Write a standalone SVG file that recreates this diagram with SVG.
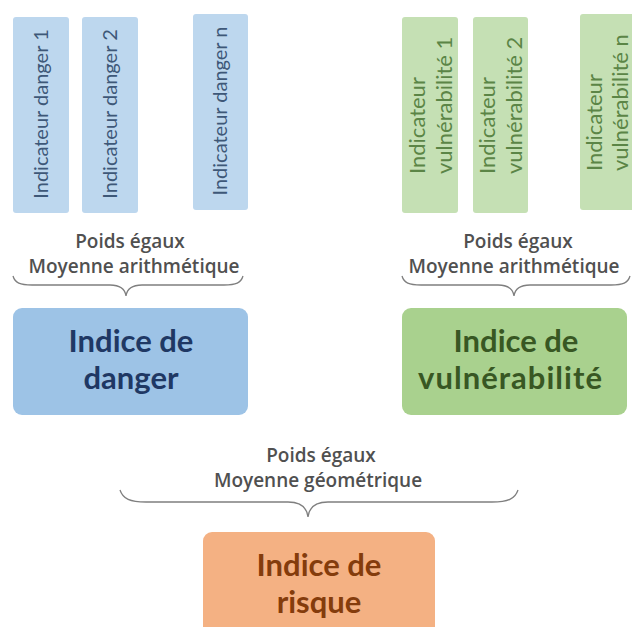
<svg xmlns="http://www.w3.org/2000/svg" width="632" height="627" viewBox="0 0 632 627">
<style>
.ind-d{fill:#BDD7EE}
.ind-v{fill:#C5E0B4}
.it{font-family:Lato,"Open Sans","Liberation Sans",sans-serif;font-weight:400;font-size:20px}
.itv-f{font-size:22px}
.itd{fill:#3E5878}
.itv{fill:#5B8546}
.lbl{font-family:"Open Sans","Liberation Sans",sans-serif;font-weight:600;font-size:19px;fill:#505050;text-anchor:middle}
.ttl{font-family:Lato,"Open Sans","Liberation Sans",sans-serif;font-weight:700;font-size:31px;text-anchor:middle}
.brace{fill:none;stroke:#7F7F7F;stroke-width:1.3}
</style>
<rect width="632" height="627" fill="#FFFFFF"/>

<g id="danger1"><rect class="ind-d" x="13" y="17" width="56" height="196" rx="3"/><text class="it itd" text-anchor="middle" transform="translate(48,114) rotate(-90)">Indicateur danger 1</text></g>
<g id="danger2"><rect class="ind-d" x="82" y="17" width="56" height="196" rx="3"/><text class="it itd" text-anchor="middle" transform="translate(117,114) rotate(-90)">Indicateur danger 2</text></g>
<g id="dangern"><rect class="ind-d" x="193" y="14" width="55" height="196" rx="3"/><text class="it itd" text-anchor="middle" transform="translate(227,111) rotate(-90)">Indicateur danger n</text></g>

<g id="vuln1"><rect class="ind-v" x="402" y="17" width="56" height="196" rx="3"/><text class="it itv itv-f" transform="translate(425,174) rotate(-90)"><tspan x="0" y="0">Indicateur</tspan><tspan x="0" y="27">vulnérabilité 1</tspan></text></g>
<g id="vuln2"><rect class="ind-v" x="473" y="17" width="55" height="196" rx="3"/><text class="it itv itv-f" transform="translate(495,174) rotate(-90)"><tspan x="0" y="0">Indicateur</tspan><tspan x="0" y="27">vulnérabilité 2</tspan></text></g>
<g id="vulnn"><rect class="ind-v" x="580" y="14" width="60" height="196" rx="3"/><text class="it itv itv-f" transform="translate(602,171) rotate(-90)"><tspan x="0" y="0">Indicateur</tspan><tspan x="0" y="26">vulnérabilité n</tspan></text></g>

<g id="connectors">
<path class="brace" d="M13,276 C15,283 20,285 32,285 L110,285 C120,285 125,289 126,296 C127,289 132,285 142,285 L224,285 C236,285 241,283 243,276"/>
<path class="brace" d="M402,276 C404,283 409,285 421,285 L498,285 C508,285 513,289 514,296 C515,289 520,285 530,285 L611,285 C623,285 628,283 630,276"/>
<path class="brace" d="M120,490 C123,499 130,502 146,502 L288,502 C302,502 307,508 308,517 C309,508 314,502 328,502 L492,502 C508,502 515,499 518,490"/>
</g>

<g id="label-danger"><text class="lbl" x="130" y="248">Poids égaux</text><text class="lbl" x="134" y="273">Moyenne arithmétique</text></g>
<g id="label-vuln"><text class="lbl" x="518" y="248">Poids égaux</text><text class="lbl" x="514" y="273">Moyenne arithmétique</text></g>
<g id="label-risk"><text class="lbl" x="321" y="462">Poids égaux</text><text class="lbl" x="318" y="487">Moyenne géométrique</text></g>

<g id="indice-danger"><rect x="13" y="308" width="235" height="107" rx="9" fill="#9DC3E6"/><text class="ttl" fill="#1F3864" x="131" y="352">Indice de</text><text class="ttl" fill="#1F3864" x="131" y="389">danger</text></g>
<g id="indice-vuln"><rect x="402" y="308" width="225" height="107" rx="9" fill="#A9D18E"/><text class="ttl" fill="#385723" x="516" y="352">Indice de</text><text class="ttl" fill="#385723" x="510" y="389" textLength="184" lengthAdjust="spacing">vulnérabilité</text></g>
<g id="indice-risque"><rect x="203" y="532" width="232" height="110" rx="9" fill="#F4B183"/><text class="ttl" fill="#843C0C" x="319" y="576">Indice de</text><text class="ttl" fill="#843C0C" x="319" y="613">risque</text></g>
</svg>
